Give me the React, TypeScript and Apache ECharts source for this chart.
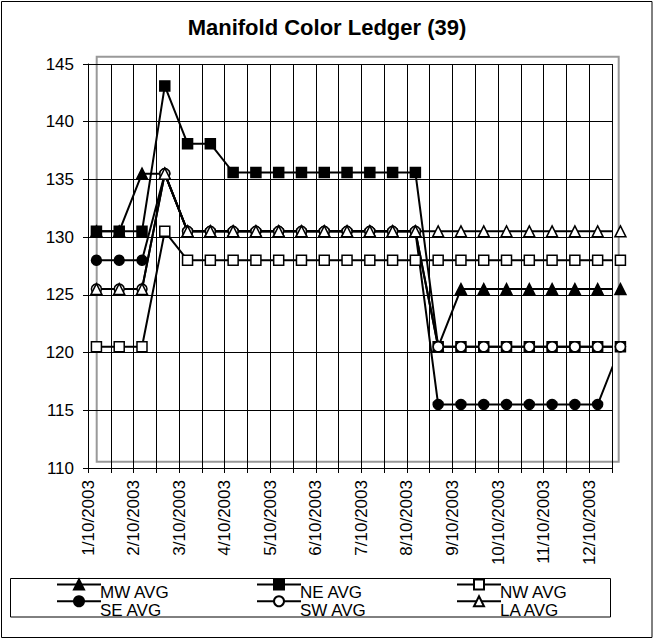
import React, { useEffect, useRef } from "react";
import * as echarts from "echarts";

const tickLabels = [
  "1/10/2003", "2/10/2003", "3/10/2003", "4/10/2003", "5/10/2003", "6/10/2003",
  "7/10/2003", "8/10/2003", "9/10/2003", "10/10/2003", "11/10/2003", "12/10/2003",
];

const seriesNames = ["MW AVG", "NE AVG", "NW AVG", "SE AVG", "SW AVG", "LA AVG"];

const mwAvg = [130.5, 130.5, 135.5, 135.5, 130.5, 130.5, 130.5, 130.5, 130.5, 130.5, 130.5, 130.5, 130.5, 130.5, 130.5, 120.5, 125.5, 125.5, 125.5, 125.5, 125.5, 125.5, 125.5, 125.5];
const neAvg = [130.5, 130.5, 130.5, 143.1, 138.1, 138.1, 135.6, 135.6, 135.6, 135.6, 135.6, 135.6, 135.6, 135.6, 135.6, 120.5, 120.5, 120.5, 120.5, 120.5, 120.5, 120.5, 120.5, 120.5];
const nwAvg = [120.5, 120.5, 120.5, 130.5, 128, 128, 128, 128, 128, 128, 128, 128, 128, 128, 128, 128, 128, 128, 128, 128, 128, 128, 128, 128];
const seAvg = [128, 128, 128, 135.5, 130.5, 130.5, 130.5, 130.5, 130.5, 130.5, 130.5, 130.5, 130.5, 130.5, 130.5, 115.5, 115.5, 115.5, 115.5, 115.5, 115.5, 115.5, 115.5, 120.5];
const swAvg = [125.5, 125.5, 125.5, 135.5, 130.5, 130.5, 130.5, 130.5, 130.5, 130.5, 130.5, 130.5, 130.5, 130.5, 130.5, 120.5, 120.5, 120.5, 120.5, 120.5, 120.5, 120.5, 120.5, 120.5];
const laAvg = [125.5, 125.5, 125.5, 135.5, 130.5, 130.5, 130.5, 130.5, 130.5, 130.5, 130.5, 130.5, 130.5, 130.5, 130.5, 130.5, 130.5, 130.5, 130.5, 130.5, 130.5, 130.5, 130.5, 130.5];

const yTicks = { min: 110, max: 145, interval: 5 };

const FONT = "'Liberation Sans', Arial, sans-serif";
const POINT_OFFSET = 0.37; // date offset of each point within its half-month slot

export default function App() {
  const ref = useRef<HTMLDivElement>(null);

  useEffect(() => {
    if (!ref.current) return;
    const chart = echarts.init(ref.current, null, { renderer: "svg" });

    const toXY = (vals: number[]) => vals.map((v, i) => [i + POINT_OFFSET, v]);

    const mk = (name: string, vals: number[], symbol: string, filled: boolean) => ({
      name,
      type: "line",
      data: toXY(vals),
      clip: false,
      symbol,
      symbolSize: symbol === "triangle" ? 11 : 10,
      showAllSymbol: true,
      lineStyle: { color: "#000", width: 2 },
      itemStyle: {
        color: filled ? "#000" : "#fff",
        borderColor: "#000",
        borderWidth: 1.5,
        opacity: 1,
      },
      emphasis: { disabled: true },
    });

    // legend layout: 3 columns x 2 rows
    const colLeft = [56, 256, 456];
    const rowLineY = 584.7;
    const rowStep = 17.3;
    const textDrop = 8;
    const legendCols = [
      [seriesNames[0], seriesNames[3]],
      [seriesNames[1], seriesNames[4]],
      [seriesNames[2], seriesNames[5]],
    ];

    const legends = legendCols.map((names, c) => ({
      orient: "vertical",
      left: colLeft[c],
      top: rowLineY - 6.25,
      padding: 0,
      itemWidth: 44,
      itemHeight: 12.5,
      itemGap: rowStep - 12.5,
      selectedMode: false,
      formatter: () => "",
      textStyle: { fontSize: 1, lineHeight: 1 },
      data: names,
    }));

    const legendTexts = legendCols.flatMap((names, c) =>
      names.map((name, r) => ({
        type: "text",
        silent: true,
        x: colLeft[c] + 44,
        y: rowLineY + r * rowStep + textDrop,
        style: {
          text: name,
          fontFamily: FONT,
          fontSize: 17,
          fill: "#000",
          verticalAlign: "middle",
          align: "left",
        },
      }))
    );

    chart.setOption({
      animation: false,
      backgroundColor: "#fff",
      title: {
        text: "Manifold Color Ledger (39)",
        left: "center",
        top: 16,
        padding: 0,
        textStyle: { fontFamily: FONT, fontSize: 22, fontWeight: "bold", color: "#000" },
      },
      grid: { left: 88, top: 64, right: 42, bottom: 171, containLabel: false },
      xAxis: {
        type: "value",
        min: 0,
        max: 23,
        interval: 1,
        axisLine: { show: true, lineStyle: { color: "#000", width: 1 } },
        axisTick: { show: true, length: 5, lineStyle: { color: "#000" } },
        splitLine: { show: true, lineStyle: { color: "#000", width: 1 } },
        axisLabel: {
          rotate: 90,
          margin: 12,
          fontFamily: FONT,
          fontSize: 17,
          color: "#000",
          formatter: (v: number) => (Math.round(v) % 2 === 0 ? tickLabels[Math.round(v) / 2] ?? "" : ""),
        },
      },
      yAxis: {
        type: "value",
        min: yTicks.min,
        max: yTicks.max,
        interval: yTicks.interval,
        axisLine: { show: true, lineStyle: { color: "#000", width: 1 } },
        axisTick: { show: true, length: 5, lineStyle: { color: "#000" } },
        splitLine: { show: true, lineStyle: { color: "#000", width: 1 } },
        axisLabel: { margin: 14, fontFamily: FONT, fontSize: 17, color: "#000" },
      },
      legend: legends,
      graphic: [
        {
          type: "rect",
          z: -1,
          silent: true,
          shape: { x: 1.5, y: 1.5, width: 650.5, height: 636 },
          style: { fill: "none", stroke: "#000", lineWidth: 1 },
        },
        {
          type: "rect",
          z: -1,
          silent: true,
          shape: { x: 96.7, y: 56.7, width: 522, height: 405 },
          style: { fill: "none", stroke: "#999", lineWidth: 2 },
        },
        {
          type: "rect",
          z: -1,
          silent: true,
          shape: { x: 10.5, y: 578.5, width: 600, height: 38.5 },
          style: { fill: "none", stroke: "#000", lineWidth: 1 },
        },
        ...legendTexts,
      ],
      series: [
        mk(seriesNames[0], mwAvg, "triangle", true),
        mk(seriesNames[1], neAvg, "rect", true),
        mk(seriesNames[2], nwAvg, "rect", false),
        mk(seriesNames[3], seAvg, "circle", true),
        mk(seriesNames[4], swAvg, "circle", false),
        mk(seriesNames[5], laAvg, "triangle", false),
      ],
    });

    return () => chart.dispose();
  }, []);

  return (
    <div
      ref={ref}
      style={{ position: "fixed", left: 0, top: 0, width: 654, height: 639 }}
    />
  );
}
